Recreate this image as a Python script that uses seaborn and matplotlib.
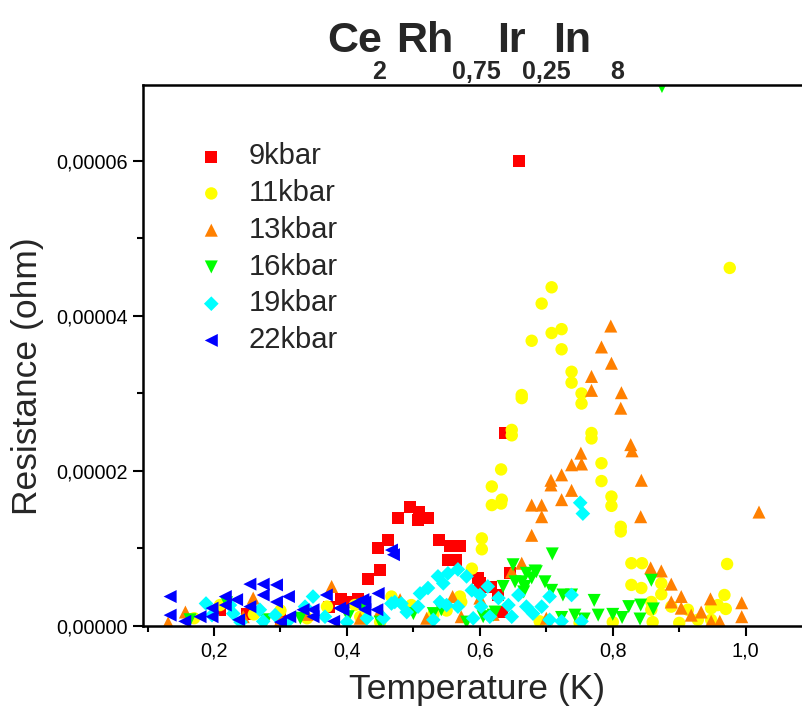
import matplotlib
matplotlib.use("Agg")
import matplotlib.pyplot as plt
import matplotlib.ticker as mticker
import seaborn as sns
import pandas as pd

# ---------------- data (y in units of 1e-5 ohm) ----------------
labels = ["9kbar", "11kbar", "13kbar", "16kbar", "19kbar", "22kbar"]

x_9 = [0.209, 0.25, 0.30, 0.373, 0.391, 0.409, 0.417, 0.432, 0.447, 0.450, 0.462, 0.477,
       0.495, 0.508, 0.507, 0.522, 0.538, 0.555, 0.570, 0.552, 0.565, 0.597, 0.604, 0.617,
       0.627, 0.645, 0.633, 0.600, 0.615, 0.638, 0.659]
y_9 = [0.21, 0.15, 0.10, 0.25, 0.35, 0.31, 0.35, 0.61, 1.01, 0.72, 1.11, 1.39,
       1.54, 1.47, 1.37, 1.39, 1.11, 1.03, 1.03, 0.85, 0.85, 0.62, 0.50, 0.50,
       0.40, 0.68, 0.18, 0.55, 0.51, 2.49, 6.00]

x_11 = [0.708, 0.693, 0.708, 0.723, 0.678, 0.723, 0.738, 0.738, 0.753, 0.753, 0.663, 0.663,
        0.768, 0.768, 0.648, 0.648, 0.632, 0.618, 0.783, 0.783, 0.798, 0.798, 0.633, 0.618,
        0.632, 0.603, 0.603, 0.588, 0.812, 0.812, 0.828, 0.844, 0.828, 0.843, 0.858, 0.858,
        0.873, 0.873, 0.888, 0.900, 0.913, 0.928, 0.948, 0.948, 0.958, 0.970, 0.968, 0.972,
        0.976, 0.570, 0.572, 0.497, 0.467, 0.412, 0.17, 0.209, 0.26, 0.30, 0.34, 0.37,
        0.42, 0.45, 0.53, 0.55, 0.69, 0.75, 0.80, 0.86]
y_11 = [4.37, 4.16, 3.78, 3.83, 3.68, 3.57, 3.28, 3.14, 3.00, 2.87, 2.98, 2.94,
        2.49, 2.42, 2.53, 2.46, 2.02, 1.80, 2.10, 1.87, 1.67, 1.55, 1.63, 1.56,
        1.58, 1.13, 0.99, 0.74, 1.28, 1.22, 0.81, 0.81, 0.53, 0.49, 0.31, 0.21,
        0.55, 0.41, 0.25, 0.04, 0.21, 0.08, 0.23, 0.08, 0.27, 0.22, 0.40, 0.80,
        4.62, 0.38, 0.31, 0.27, 0.38, 0.27, 0.10, 0.27, 0.15, 0.20, 0.10, 0.25,
        0.12, 0.05, 0.15, 0.20, 0.06, 0.04, 0.05, 0.05]

x_13 = [0.797, 0.783, 0.798, 0.768, 0.768, 0.813, 0.812, 0.827, 0.829, 0.752, 0.738, 0.753,
        0.723, 0.738, 0.723, 0.843, 0.842, 1.020, 0.707, 0.707, 0.678, 0.693, 0.693, 0.678,
        0.663, 0.648, 0.600, 0.559, 0.480, 0.572, 0.857, 0.873, 0.888, 0.888, 0.903, 0.903,
        0.918, 0.933, 0.947, 0.961, 0.994, 0.994, 0.948, 0.377, 0.157, 0.131, 0.259, 0.244,
        0.30, 0.34, 0.42, 0.45, 0.52, 0.62, 0.70]
y_13 = [3.87, 3.60, 3.39, 3.22, 3.04, 3.01, 2.81, 2.34, 2.26, 2.23, 2.08, 2.09,
        1.95, 1.75, 1.63, 1.88, 1.41, 1.47, 1.88, 1.82, 1.56, 1.56, 1.41, 1.17,
        0.81, 0.70, 0.36, 0.38, 0.34, 0.12, 0.75, 0.71, 0.54, 0.31, 0.38, 0.23,
        0.14, 0.18, 0.35, 0.06, 0.30, 0.12, 0.06, 0.51, 0.18, 0.04, 0.36, 0.12,
        0.08, 0.15, 0.10, 0.20, 0.10, 0.15, 0.10]

x_16 = [0.874, 0.709, 0.685, 0.698, 0.708, 0.725, 0.772, 0.778, 0.723, 0.743, 0.757, 0.800,
        0.814, 0.824, 0.842, 0.841, 0.861, 0.858, 0.650, 0.683, 0.663, 0.678, 0.635, 0.666,
        0.738, 0.605, 0.620, 0.623, 0.500, 0.530, 0.542, 0.670, 0.653, 0.668, 0.164, 0.219,
        0.279, 0.33, 0.402, 0.424, 0.45, 0.58]
y_16 = [6.96, 0.93, 0.70, 0.57, 0.46, 0.40, 0.33, 0.14, 0.11, 0.14, 0.09, 0.15,
        0.11, 0.25, 0.27, 0.09, 0.22, 0.59, 0.79, 0.71, 0.57, 0.62, 0.51, 0.44,
        0.40, 0.12, 0.14, 0.18, 0.16, 0.16, 0.21, 0.68, 0.57, 0.51, 0.08, 0.30,
        0.08, 0.10, 0.12, 0.27, 0.05, 0.05]

x_19 = [0.751, 0.755, 0.567, 0.552, 0.537, 0.580, 0.545, 0.522, 0.510, 0.588, 0.600, 0.612,
        0.628, 0.643, 0.658, 0.670, 0.550, 0.567, 0.602, 0.507, 0.540, 0.490, 0.590, 0.615,
        0.648, 0.680, 0.705, 0.738, 0.693, 0.705, 0.723, 0.753, 0.467, 0.482, 0.43, 0.349,
        0.337, 0.292, 0.367, 0.472, 0.188, 0.197, 0.224, 0.229, 0.269, 0.274, 0.24, 0.31,
        0.40, 0.455, 0.53]
y_19 = [1.59, 1.45, 0.73, 0.68, 0.64, 0.64, 0.55, 0.49, 0.42, 0.46, 0.40, 0.51,
        0.36, 0.27, 0.40, 0.25, 0.27, 0.25, 0.25, 0.25, 0.31, 0.18, 0.10, 0.12,
        0.12, 0.16, 0.38, 0.40, 0.25, 0.08, 0.06, 0.06, 0.29, 0.29, 0.10, 0.38,
        0.25, 0.14, 0.12, 0.31, 0.29, 0.14, 0.27, 0.16, 0.21, 0.06, 0.05, 0.05,
        0.05, 0.10, 0.08]

x_22 = [0.134, 0.134, 0.254, 0.274, 0.294, 0.217, 0.234, 0.274, 0.312, 0.217, 0.294, 0.254,
        0.197, 0.197, 0.179, 0.349, 0.334, 0.369, 0.394, 0.314, 0.349, 0.424, 0.427, 0.237,
        0.156, 0.389, 0.412, 0.427, 0.447, 0.445, 0.467, 0.470, 0.30, 0.38]
y_22 = [0.38, 0.14, 0.54, 0.54, 0.53, 0.38, 0.34, 0.40, 0.38, 0.27, 0.31, 0.25,
        0.23, 0.12, 0.12, 0.21, 0.21, 0.40, 0.21, 0.12, 0.12, 0.34, 0.21, 0.08,
        0.06, 0.23, 0.29, 0.31, 0.42, 0.21, 0.98, 0.92, 0.05, 0.06]

x_ticks = [0.2, 0.4, 0.6, 0.8, 1.0]
y_ticks = [0.0, 2e-5, 4e-5, 6e-5]

# ---------------- style ----------------
colors = {"9kbar": "#FF0000", "11kbar": "#FFFF00", "13kbar": "#FF8000",
          "16kbar": "#00FF00", "19kbar": "#00FFFF", "22kbar": "#0000FF"}
markers = {"9kbar": "s", "11kbar": "o", "13kbar": "^",
           "16kbar": "v", "19kbar": "D", "22kbar": "<"}
sizes = {"9kbar": 72, "11kbar": 80, "13kbar": 88,
         "16kbar": 88, "19kbar": 56, "22kbar": 88}

sns.set_theme(style="ticks")
plt.rcParams["font.family"] = ["Liberation Sans", "DejaVu Sans"]

xs = [x_9, x_11, x_13, x_16, x_19, x_22]
ys = [y_9, y_11, y_13, y_16, y_19, y_22]
frames = []
for lab, xv, yv in zip(labels, xs, ys):
    frames.append(pd.DataFrame({"T": xv, "R": [v * 1e-5 for v in yv], "series": lab}))
df = pd.concat(frames, ignore_index=True)

fig = plt.figure(figsize=(8.02, 7.11), dpi=100)
W, H = 802, 711
ax = fig.add_axes([143 / W, 1 - 626 / H, (802 - 143) / W, (626 - 85) / H])

for lab in labels:
    sub = df[df["series"] == lab]
    sns.scatterplot(data=sub, x="T", y="R", ax=ax, color=colors[lab],
                    marker=markers[lab], s=sizes[lab], linewidth=0,
                    edgecolor="none", label=lab, clip_on=True)

ax.set_xlim(0.0932, 1.0847)
ax.set_ylim(0, 6.98e-5)
ax.set_xlabel("")
ax.set_ylabel("")

ax.xaxis.set_major_locator(mticker.FixedLocator(x_ticks))
ax.xaxis.set_minor_locator(mticker.MultipleLocator(0.1))
ax.yaxis.set_major_locator(mticker.FixedLocator(y_ticks))
ax.yaxis.set_minor_locator(mticker.MultipleLocator(1e-5))
ax.xaxis.set_major_formatter(mticker.FuncFormatter(lambda v, p: f"{v:.1f}".replace(".", ",")))
ax.yaxis.set_major_formatter(mticker.FuncFormatter(lambda v, p: f"{v:.5f}".replace(".", ",")))

ax.tick_params(axis="both", which="major", direction="out", length=7, width=1.5,
               labelsize=14.3, color="black", labelcolor="black", pad=4)
ax.tick_params(axis="both", which="minor", direction="out", length=4, width=1.5,
               color="black")
ax.tick_params(top=False, right=False, which="both")

for side in ["left", "bottom", "top"]:
    ax.spines[side].set_linewidth(1.8)
    ax.spines[side].set_color("black")
ax.spines["right"].set_visible(False)

leg = ax.legend(loc="upper left", bbox_to_anchor=(0.0815, 0.894), frameon=False,
                fontsize=21, handlelength=1.0, handletextpad=0.77, labelspacing=0.30,
                borderpad=0, borderaxespad=0, markerscale=1.0)

fig.text(28 / W, 1 - 376 / H, "Resistance (ohm)", rotation=90, ha="center", va="center",
         fontsize=25.5)
fig.text(477 / W, 1 - 690 / H, "Temperature (K)", ha="center", va="center", fontsize=25.5)

tfam = ["Liberation Sans Narrow", "Liberation Sans", "DejaVu Sans"]
pieces = [("Ce", 327, 52, 31), ("2", 372, 79, 18), ("Rh", 396, 52, 31), ("0,75", 452, 79, 18),
          ("Ir", 497, 52, 31), ("0,25", 522, 79, 18), ("In", 553, 52, 31), ("8", 610, 79, 18)]
for txt, px, py, fs in pieces:
    fig.text(px / W, 1 - py / H, txt, ha="left", va="baseline", fontsize=fs,
             fontweight="bold", family=tfam)

fig.savefig("out.png", dpi=100)
